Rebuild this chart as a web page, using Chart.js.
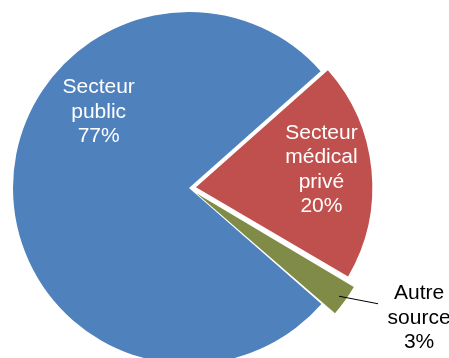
<!DOCTYPE html>
<html>
<head>
<meta charset="utf-8">
<script src="https://cdn.jsdelivr.net/npm/chart.js@4.4.0/dist/chart.umd.min.js"></script>
<style>
  html, body { margin: 0; padding: 0; background: #fff; overflow: hidden; }
  #boite { position: relative; width: 449px; height: 376px; }
</style>
</head>
<body>
<div id="boite"><canvas id="miGrafica"></canvas></div>
<script>
// donnees
var categories = ["Secteur public", "Secteur médical privé", "Autre source"]
var valeurs = [77, 20, 3]
var etiquettes = [
    ["Secteur", "public", "77%"],
    ["Secteur", "médical", "privé", "20%"],
    ["Autre", "source", "3%"]
]
var couleurs = ["#4F81BD", "#C0504D", "#7F8B46"]
var decalages = [0, 28, 36] // chart.js divise par 4

// placement des etiquettes (angle depuis le haut, fraction du rayon)
var placement = [
    { angle: 310, r: 0.67, couleur: "#fff" },
    { angle: 82, r: 0.72, couleur: "#fff" },
    { angle: 119.2, r: 1.45, couleur: "#000", ligne: true }
]

var pluginEtiquettes = {
    id: 'etiquettes',
    afterDatasetsDraw: function(chart) {
        var ctx = chart.ctx
        var arcs = chart.getDatasetMeta(0).data
        ctx.save()
        ctx.font = '21px "Liberation Sans", Arial, sans-serif'
        ctx.textAlign = 'center'
        ctx.textBaseline = 'middle'
        arcs.forEach(function(arc, i) {
            var p = placement[i]
            var mid = (arc.startAngle + arc.endAngle) / 2
            var d = decalages[i] / 4
            var cx = arc.x + Math.cos(mid) * d
            var cy = arc.y + Math.sin(mid) * d
            var a = p.angle * Math.PI / 180
            var x = cx + Math.sin(a) * arc.outerRadius * p.r
            var y = cy - Math.cos(a) * arc.outerRadius * p.r
            if (p.ligne) {
                ctx.beginPath()
                ctx.strokeStyle = '#000'
                ctx.lineWidth = 1
                ctx.moveTo(cx + Math.cos(mid) * arc.outerRadius, cy + Math.sin(mid) * arc.outerRadius)
                ctx.lineTo(x - 41, y - 14)
                ctx.stroke()
            }
            ctx.fillStyle = p.couleur
            var lignes = etiquettes[i]
            var h = 24.5
            var y0 = y - (lignes.length - 1) * h / 2
            lignes.forEach(function(t, k) {
                ctx.fillText(t, x, y0 + k * h)
            })
        })
        ctx.restore()
    }
}

new Chart("miGrafica", {
    type: "pie",
    data: {
        labels: categories,
        datasets: [{
            data: valeurs,
            backgroundColor: couleurs,
            borderWidth: 0,
            offset: decalages,
            rotation: 131.2,
            radius: 176
        }]
    },
    options: {
        responsive: true,
        maintainAspectRatio: false,
        animation: false,
        devicePixelRatio: 1,
        layout: { padding: { left: 0, right: 71, top: 0, bottom: 0 } },
        plugins: {
            legend: { display: false },
            tooltip: { enabled: false }
        }
    },
    plugins: [pluginEtiquettes]
})
</script>
</body>
</html>
